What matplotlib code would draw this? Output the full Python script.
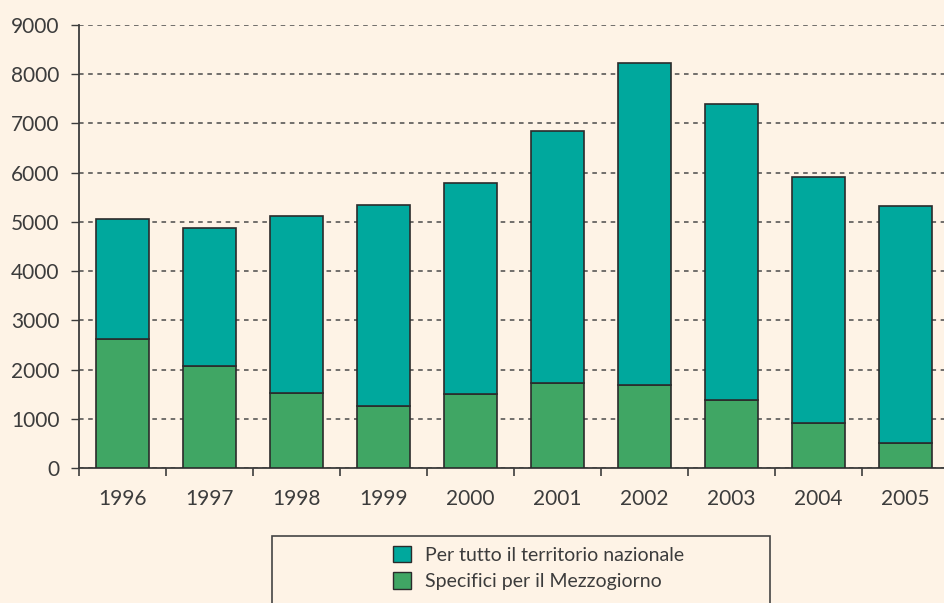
import matplotlib
matplotlib.use("Agg")
import matplotlib.pyplot as plt
from matplotlib.patches import Rectangle, Patch
import numpy as np

# Data
years = ["1996", "1997", "1998", "1999", "2000", "2001", "2002", "2003", "2004", "2005"]
mezzogiorno = [2620, 2065, 1530, 1265, 1500, 1720, 1680, 1375, 905, 510]
totale = [5060, 4880, 5110, 5350, 5800, 6855, 8225, 7400, 5920, 5330]
nazionale = [t - m for t, m in zip(totale, mezzogiorno)]

bg = "#FEF3E6"
teal = "#00A89D"
green = "#40A664"
txt = "#3c3c3c"

plt.rcParams["font.family"] = ["Lato", "DejaVu Sans"]

fig = plt.figure(figsize=(9.45, 6.03), dpi=100, facecolor=bg)
ax = fig.add_axes([79 / 945, 1 - 468 / 603, 870 / 945, 443 / 603], facecolor=bg)

x = np.arange(len(years))
w = 0.62
ax.bar(x, mezzogiorno, w, color=green, edgecolor="#2b2b2b", linewidth=1.2, zorder=3)
ax.bar(x, nazionale, w, bottom=mezzogiorno, color=teal, edgecolor="#2b2b2b",
       linewidth=1.2, zorder=3)

ax.set_xlim(-0.5, len(years) - 0.5)
ax.set_ylim(0, 9000)
ax.set_yticks(range(0, 9001, 1000))
ax.yaxis.grid(True, linestyle=(0, (3, 3)), color="#4a4a4a", linewidth=1.1, zorder=0)

# year labels centred under bars, ticks between categories
ax.set_xticks(x)
ax.set_xticklabels(years)
ax.set_xticks(np.arange(len(years) + 1) - 0.5, minor=True)
ax.tick_params(axis="x", which="major", length=0, pad=15, labelsize=15, labelcolor=txt)
ax.tick_params(axis="x", which="minor", length=6, width=1.2, color="#3c3c3c", direction="out")
ax.tick_params(axis="y", length=6, width=1.0, color="#3c3c3c", pad=8,
               labelsize=15, labelcolor=txt)

for s in ["top", "right"]:
    ax.spines[s].set_visible(False)
for s in ["left", "bottom"]:
    ax.spines[s].set_color("#3c3c3c")
    ax.spines[s].set_linewidth(1.3)

# legend box
fig.patches.append(Rectangle((272 / 945, -0.05), (770 - 272) / 945, 1 - 536 / 603 + 0.05,
                             transform=fig.transFigure, fill=False,
                             edgecolor="#444444", linewidth=1.2))
handles = [Patch(facecolor=teal, edgecolor="#2b2b2b", label="Per tutto il territorio nazionale"),
           Patch(facecolor=green, edgecolor="#2b2b2b", label="Specifici per il Mezzogiorno")]
fig.legend(handles=handles, loc="center left", bbox_to_anchor=(376 / 945, 1 - 568 / 603),
           frameon=False, fontsize=14, handlelength=0.9, handleheight=0.9,
           handletextpad=0.7, labelspacing=0.45, labelcolor=txt)

fig.savefig("out.png", dpi=100, facecolor=bg)
